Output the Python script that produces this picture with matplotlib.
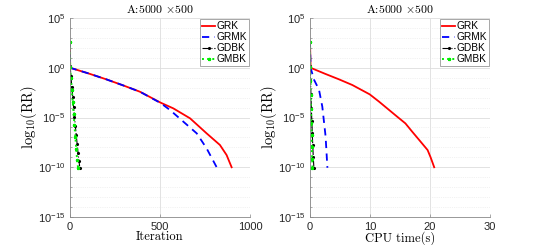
import numpy as np
import matplotlib
matplotlib.use("Agg")
import matplotlib.pyplot as plt
from matplotlib.ticker import LogLocator, FixedLocator, NullFormatter

plt.rcParams['font.family'] = ['Liberation Sans', 'DejaVu Sans']
plt.rcParams['mathtext.fontset'] = 'cm'

# values, log10(RR)
grk_it = [0, 1, 100, 200, 300, 389, 504, 574, 667, 759, 833, 870, 898]
grk_lr = [2.6, 0.0, -0.55, -1.15, -1.8, -2.41, -3.51, -4.08, -5.08, -6.59, -7.76, -8.77, -10.0]
grmk_it = [0, 1, 100, 200, 300, 389, 504, 556, 630, 704, 759, 815]
grmk_lr = [2.6, 0.0, -0.55, -1.15, -1.8, -2.41, -3.55, -4.25, -5.42, -6.59, -8.1, -10.0]
gdbk_it = [0, 1, 5, 10, 15, 20, 25, 30, 35, 40, 45, 50, 55]
gdbk_lr = [2.6, 0.2, -0.8, -1.9, -2.9, -3.9, -4.9, -5.9, -6.8, -7.7, -8.6, -9.4, -10.1]
gmbk_it = [0, 1, 5, 10, 15, 20, 25, 30, 35, 40, 45]
gmbk_lr = [2.6, 0.1, -1.0, -2.2, -3.4, -4.6, -5.8, -7.0, -8.2, -9.3, -10.05]

grk_t = [0, 0.1, 2.5, 4.83, 7.05, 9.95, 11.5, 13.2, 14.5, 15.9, 17.0, 18.2, 19.6, 20.1, 20.7]
grk_tlr = [2.6, 0.0, -0.6, -1.16, -1.73, -2.67, -3.4, -4.25, -4.9, -5.59, -6.4, -7.26, -8.27, -9.0, -10.0]
grmk_t = [0, 0.1, 0.67, 1.5, 2.05, 2.6, 2.9]
grmk_tlr = [2.6, 0.0, -1.2, -2.2, -3.9, -6.9, -10.05]
gdbk_t = [0, 0.02, 0.08, 0.15, 0.22, 0.3, 0.38, 0.46, 0.55, 0.65]
gdbk_tlr = [2.6, 0.2, -1.2, -2.6, -4.0, -5.3, -6.6, -7.8, -9.0, -10.1]
gmbk_t = [0, 0.02, 0.06, 0.11, 0.16, 0.21, 0.26, 0.31, 0.36, 0.4]
gmbk_tlr = [2.6, 0.1, -1.3, -2.7, -4.1, -5.5, -6.8, -8.0, -9.2, -10.05]

names = ['GRK', 'GRMK', 'GDBK', 'GMBK']
title = r'A:5000 $\times$500'
serif = 'cmr10'

fig = plt.figure(figsize=(5.45, 2.45), dpi=100)
ax1 = fig.add_axes([0.1284, 0.1143, 0.3303, 0.812])
ax2 = fig.add_axes([0.5688, 0.1143, 0.3303, 0.812])


def draw(ax, xs, ys, xmax, xticks, xlabel):
    ax.semilogy(xs[0], 10.0 ** np.array(ys[0]), '-', color='red', lw=1.3, label=names[0])
    ax.semilogy(xs[1], 10.0 ** np.array(ys[1]), '--', color='blue', lw=1.3,
                dashes=(4, 3), label=names[1])
    ax.semilogy(xs[2], 10.0 ** np.array(ys[2]), '-.', color='black', lw=0.8,
                marker='.', ms=2.5, label=names[2])
    ax.semilogy(xs[3], 10.0 ** np.array(ys[3]), ':', color='#00ee00', lw=1.4,
                marker='*', ms=2.2, label=names[3])
    ax.set_xlim(0, xmax)
    ax.set_ylim(1e-15, 1e5)
    ax.xaxis.set_major_locator(FixedLocator(xticks))
    ax.yaxis.set_major_locator(FixedLocator([1e-15, 1e-10, 1e-5, 1e0, 1e5]))
    ax.yaxis.set_minor_locator(LogLocator(base=10, subs=(1.0,), numticks=30))
    ax.yaxis.set_minor_formatter(NullFormatter())
    ax.grid(True, which='major', color='#dddddd', lw=0.6)
    ax.grid(True, which='minor', axis='y', color='#e6e6e6', lw=0.5, ls=':')
    ax.set_axisbelow(True)
    for s in ['top', 'right']:
        ax.spines[s].set_visible(False)
    for s in ['left', 'bottom']:
        ax.spines[s].set_color('#888888')
        ax.spines[s].set_linewidth(0.6)
    ax.tick_params(which='both', direction='in', labelsize=8, colors='#888888',
                   labelcolor='#262626', length=2.5, width=0.5)
    ax.tick_params(which='minor', length=1.5)
    ax.set_title(title, fontsize=8.5, pad=4, family=serif)
    ax.set_xlabel(xlabel, fontsize=9, labelpad=-0.5, family=serif)
    ax.set_ylabel(r'log$_{10}$(RR)', fontsize=10.5, labelpad=-1, family=serif)
    leg = ax.legend(loc='upper right', fontsize=7.3, handlelength=1.3, handletextpad=0.1,
                    borderpad=0.2, labelspacing=0.1, borderaxespad=0.1, fancybox=False,
                    framealpha=1, edgecolor='#999999', markerscale=1.0)
    leg.get_frame().set_linewidth(0.6)


draw(ax1, [grk_it, grmk_it, gdbk_it, gmbk_it], [grk_lr, grmk_lr, gdbk_lr, gmbk_lr],
     1000, [0, 500, 1000], 'Iteration')
draw(ax2, [grk_t, grmk_t, gdbk_t, gmbk_t], [grk_tlr, grmk_tlr, gdbk_tlr, gmbk_tlr],
     30, [0, 10, 20, 30], 'CPU time(s)')

fig.savefig('out.png', dpi=100)
